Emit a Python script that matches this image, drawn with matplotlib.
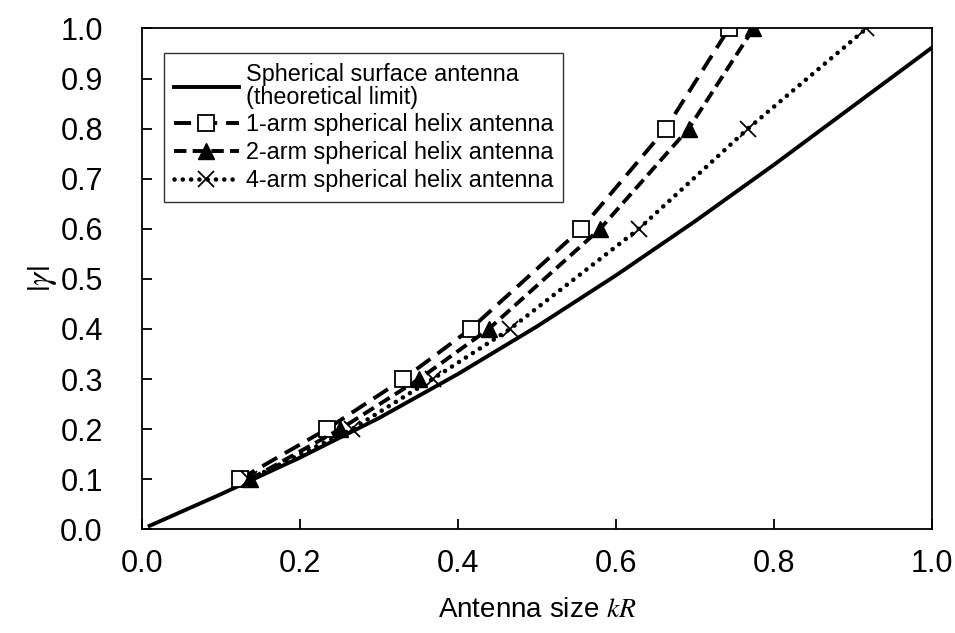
import matplotlib
matplotlib.use("Agg")
import matplotlib.pyplot as plt

plt.rcParams['font.family'] = ['Liberation Sans', 'DejaVu Sans']
plt.rcParams['mathtext.fontset'] = 'stix'

# theoretical limit of a spherical surface antenna
kr_limit = [0.01, 0.05, 0.1, 0.2, 0.3, 0.4, 0.5, 0.6, 0.7, 0.8, 0.9, 1.0]
gamma_limit = [0.007, 0.035, 0.070, 0.143, 0.222, 0.310, 0.405, 0.507, 0.615, 0.728, 0.845, 0.962]

gamma_pts = [0.1, 0.2, 0.3, 0.4, 0.6, 0.8, 1.0]
kr_1arm = [0.124, 0.234, 0.331, 0.416, 0.556, 0.663, 0.743]
kr_2arm = [0.137, 0.251, 0.351, 0.439, 0.580, 0.692, 0.774]
kr_4arm = [0.136, 0.266, 0.368, 0.466, 0.629, 0.767, 0.917]

labels = ['Spherical surface antenna\n(theoretical limit)',
          '1-arm spherical helix antenna',
          '2-arm spherical helix antenna',
          '4-arm spherical helix antenna']

fig = plt.figure(figsize=(9.55, 6.33), dpi=100)
ax = fig.add_axes([0.1484, 0.1638, 0.8276, 0.7912])

lw = 2.8
ax.plot(kr_limit, gamma_limit, color='black', lw=lw, label=labels[0])
ax.plot(kr_1arm, gamma_pts, color='black', lw=lw, dashes=(4.4, 2.3),
        marker='s', ms=11.5, mfc='white', mec='black', mew=1.3, label=labels[1])
ax.plot(kr_2arm, gamma_pts, color='black', lw=lw, dashes=(3.2, 1.6),
        marker='^', ms=11, mfc='black', mec='black', label=labels[2])
ax.plot(kr_4arm, gamma_pts, color='black', lw=3.3, dashes=(0.01, 1.8),
        dash_capstyle='round', marker='x', ms=12, mew=1.3, mec='black',
        label=labels[3])

ax.set_xlim(0, 1.0)
ax.set_ylim(0, 1.0)
ax.set_xticks([0.0, 0.2, 0.4, 0.6, 0.8, 1.0])
ax.set_yticks([i / 10 for i in range(11)])
ax.xaxis.set_major_formatter(matplotlib.ticker.FormatStrFormatter('%.1f'))
ax.yaxis.set_major_formatter(matplotlib.ticker.FormatStrFormatter('%.1f'))
ax.tick_params(direction='in', length=7, width=1.3, labelsize=22)
ax.tick_params(axis='x', pad=14)
ax.tick_params(axis='y', pad=28)
for s in ax.spines.values():
    s.set_linewidth(1.3)

ax.set_xlabel('Antenna size $kR$', fontsize=20)
ax.set_ylabel(r'$|\gamma|$', fontsize=24)
ax.xaxis.set_label_coords(0.5, -0.135)
ax.yaxis.set_label_coords(-0.105, 0.5)

leg = ax.legend(loc='upper left', bbox_to_anchor=(0.028, 0.951), fontsize=16.8,
                frameon=True, fancybox=False, edgecolor='black',
                handlelength=2.8, handletextpad=0.3, borderpad=0.42,
                labelspacing=0.2, borderaxespad=0)
leg.get_frame().set_linewidth(1.0)
for t in leg.get_texts():
    t.set_linespacing(1.0)

fig.savefig('out.png', dpi=100)
